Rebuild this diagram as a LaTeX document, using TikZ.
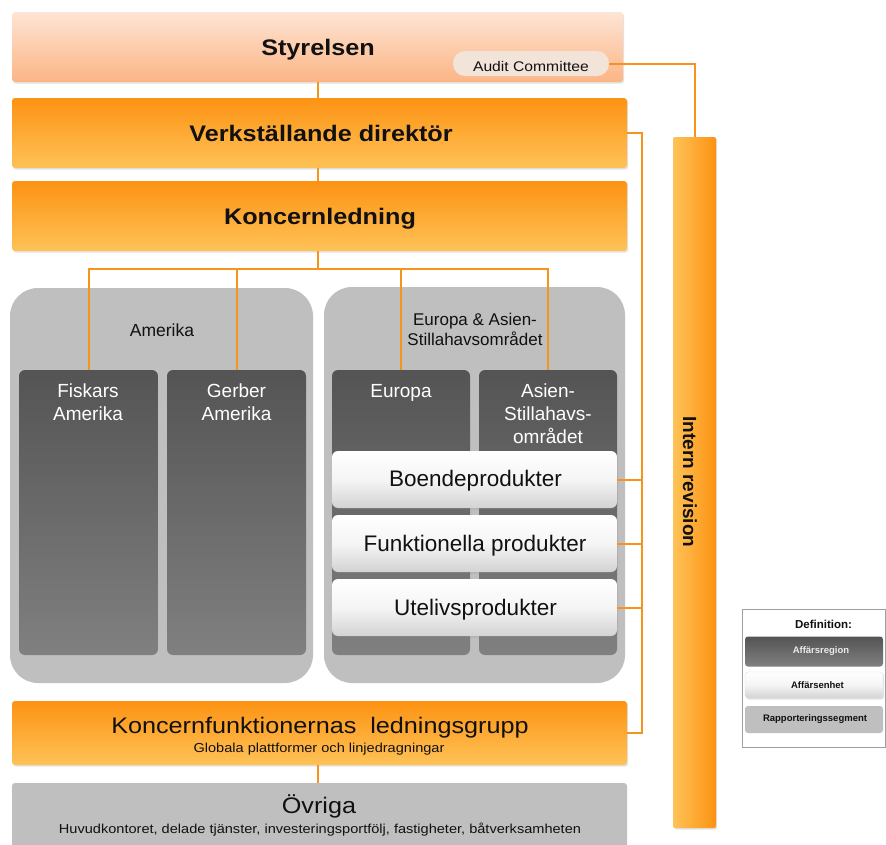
\documentclass[tikz,border=0pt]{standalone}
\usepackage{fontspec}
\setmainfont{Liberation Sans}
\newfontfamily\widefont{Liberation Sans}[FakeStretch=1.12]
\usetikzlibrary{shadows}
\definecolor{linec}{HTML}{F7941D}
\definecolor{orgtop}{HTML}{FD9313}
\definecolor{orgbot}{HTML}{FEC257}
\definecolor{stytop}{HTML}{FEE4D4}
\definecolor{stybot}{HTML}{FBB585}
\definecolor{auditc}{HTML}{F2E4D8}
\definecolor{grpc}{HTML}{BFBFBF}
\definecolor{darktop}{HTML}{545454}
\definecolor{darkbot}{HTML}{808080}
\definecolor{whbot}{HTML}{D3D3D3}
\definecolor{txtc}{HTML}{111111}
\newcommand\setfs[1]{\fontsize{#1pt}{#1pt}\selectfont}
\tikzset{
  conn/.style={draw=linec, line width=2pt},
  boxbase/.style={rectangle, inner sep=0pt, outer sep=0pt, draw=none},
  softshadow/.style={drop shadow={shadow xshift=1.2pt, shadow yshift=-1.5pt, opacity=0.22}},
  orangebox/.style={boxbase, rounded corners=3pt, top color=orgtop, bottom color=orgbot, softshadow},
  stybox/.style={boxbase, rounded corners=3pt, top color=stytop, bottom color=stybot, softshadow},
  grpbox/.style={boxbase, rounded corners=28pt, fill=grpc},
  darkbox/.style={boxbase, rounded corners=6pt, top color=darktop, bottom color=darkbot},
  whitebox/.style={boxbase, rounded corners=6pt, top color=white, bottom color=whbot, middle color=white!96!black, softshadow},
  lbl/.style={anchor=base, inner sep=0pt, text=txtc},
  wlbl/.style={anchor=base, inner sep=0pt, text=white},
}
\begin{document}
\begin{tikzpicture}[x=1pt,y=-1pt]
\useasboundingbox (0,0) rectangle (886,844);
\fill[white] (0,0) rectangle (886,844);

% top bands
\node[stybox, minimum width=611pt, minimum height=70pt] (sty) at (317.5,47) {};
\node[boxbase, rounded corners=12pt, fill=auditc, minimum width=156pt, minimum height=25pt] (audit) at (531,63.5) {};
\node[orangebox, minimum width=615pt, minimum height=70pt] (vd) at (319.5,133) {};
\node[orangebox, minimum width=615pt, minimum height=70pt] (kl) at (319.5,216) {};

\node[lbl, font=\widefont\bfseries\setfs{22.5}] (t-sty) at (318,55) {Styrelsen};
\node[lbl, font=\widefont\setfs{14}] (t-audit) at (531,71) {Audit Committee};
\node[lbl, font=\widefont\bfseries\setfs{22.5}] (t-vd) at (321,141.5) {Verkställande direktör};
\node[lbl, font=\widefont\bfseries\setfs{22.5}] (t-kl) at (320,224) {Koncernledning};

% groups
\node[grpbox, minimum width=303pt, minimum height=395pt] (amer) at (161.5,485.5) {};
\node[grpbox, minimum width=301pt, minimum height=396pt] (eagrp) at (474.5,485) {};
\node[lbl, font=\setfs{17.5}] (t-amer) at (162,336) {Amerika};
\node[lbl, font=\setfs{17}] (t-ea1) at (475,325) {Europa \& Asien-};
\node[lbl, font=\setfs{17}] (t-ea2) at (475,345) {Stillahavsområdet};

% business regions
\node[darkbox, minimum width=139pt, minimum height=285pt] (fisk) at (88.5,512.5) {};
\node[darkbox, minimum width=139pt, minimum height=285pt] (gerb) at (236.5,512.5) {};
\node[darkbox, minimum width=138pt, minimum height=285pt] (eur) at (401,512.5) {};
\node[darkbox, minimum width=138pt, minimum height=285pt] (asia) at (548,512.5) {};

\node[wlbl, font=\setfs{19}] (t-fisk1) at (88,397) {Fiskars};
\node[wlbl, font=\setfs{19}] (t-fisk2) at (88,420) {Amerika};
\node[wlbl, font=\setfs{19}] (t-gerb1) at (236.5,397) {Gerber};
\node[wlbl, font=\setfs{19}] (t-gerb2) at (236.5,420) {Amerika};
\node[wlbl, font=\setfs{19}] (t-eur) at (401,397) {Europa};
\node[wlbl, font=\setfs{19}] (t-asia1) at (548,397) {Asien-};
\node[wlbl, font=\setfs{19}] (t-asia2) at (548,420) {Stillahavs-};
\node[wlbl, font=\setfs{19}] (t-asia3) at (548,443) {området};

% business units
\node[whitebox, minimum width=285pt, minimum height=57pt] (boende) at (474.5,479.5) {};
\node[whitebox, minimum width=285pt, minimum height=57pt] (funk) at (474.5,543.5) {};
\node[whitebox, minimum width=285pt, minimum height=57pt] (utel) at (474.5,607.5) {};
\node[lbl, font=\setfs{22.5}] (t-boende) at (475.5,486.5) {Boendeprodukter};
\node[lbl, font=\setfs{22.5}] (t-funk) at (475,551.5) {Funktionella produkter};
\node[lbl, font=\setfs{22.5}] (t-utel) at (475.5,615) {Utelivsprodukter};

% bottom bands
\node[orangebox, minimum width=615pt, minimum height=64pt] (kfl) at (319.5,733) {};
\node[boxbase, rounded corners=3pt, fill=grpc, minimum width=615pt, minimum height=77pt] (ovr) at (319.5,821.5) {};
\node[lbl, font=\widefont\setfs{22.5}] (t-kfl1) at (320,733) {Koncernfunktionernas\ \ ledningsgrupp};
\node[lbl, font=\widefont\setfs{13}] (t-kfl2) at (319,752) {Globala plattformer och linjedragningar};
\node[lbl, font=\widefont\setfs{22.5}] (t-ovr1) at (319,813) {Övriga};
\node[lbl, font=\widefont\setfs{13}] (t-ovr2) at (320,833) {Huvudkontoret, delade tjänster, investeringsportfölj, fastigheter, båtverksamheten};

% internal audit
\node[boxbase, rounded corners=2pt, left color=orgbot, right color=orgtop, softshadow, minimum width=43pt, minimum height=691pt] (ir) at (694.5,482.5) {};
\node[anchor=center, inner sep=0pt, rotate=-90, text=txtc, font=\bfseries\setfs{19}] (t-ir) at (690,482) {Intern revision};

% legend
\node[boxbase, draw=gray!75, line width=0.8pt, fill=white, minimum width=143pt, minimum height=138pt] (leg) at (813.5,678) {};
\node[lbl, font=\bfseries\setfs{11.5}] (t-leg) at (823.5,628) {Definition:};
\node[darkbox, rounded corners=3pt, minimum width=138pt, minimum height=30pt] (lg1) at (814,651.5) {};
\node[whitebox, rounded corners=3pt, draw=gray!25, minimum width=138pt, minimum height=26pt] (lg2) at (814,685) {};
\node[boxbase, rounded corners=3pt, fill=grpc, minimum width=138pt, minimum height=27pt] (lg3) at (814,719.5) {};
\node[anchor=center, inner sep=0pt, text=white!92!black, font=\bfseries\setfs{9.5}] (t-lg1) at (821,651.5) {Affärsregion};
\node[anchor=center, inner sep=0pt, text=txtc, font=\bfseries\setfs{9.5}] (t-lg2) at (817.5,685) {Affärsenhet};
\node[anchor=center, inner sep=0pt, text=txtc, font=\bfseries\setfs{9.5}] (t-lg3) at (815,719.5) {Rapporteringssegment};

% connectors
\coordinate (bus) at (318,269);
\coordinate (rbus) at (642,133);
\draw[conn] (sty.south) -- (sty.south |- vd.north);
\draw[conn] (vd.south -| sty.south) -- (kl.north -| sty.south);
\draw[conn] (kl.south -| bus) -- (bus);
\draw[conn] (fisk.north) |- (bus) -| (asia.north);
\draw[conn] (gerb.north) -- (gerb.north |- bus);
\draw[conn] (eur.north) -- (eur.north |- bus);
\draw[conn] (vd.east) -- (rbus) -- (rbus |- kfl.east) -- (kfl.east);
\draw[conn] (boende.east) -- (boende.east -| rbus);
\draw[conn] (funk.east) -- (funk.east -| rbus);
\draw[conn] (utel.east) -- (utel.east -| rbus);
\draw[conn] (audit.east) -| (ir.north);
\draw[conn] (kfl.south -| bus) -- (ovr.north -| bus);
\end{tikzpicture}
\end{document}
